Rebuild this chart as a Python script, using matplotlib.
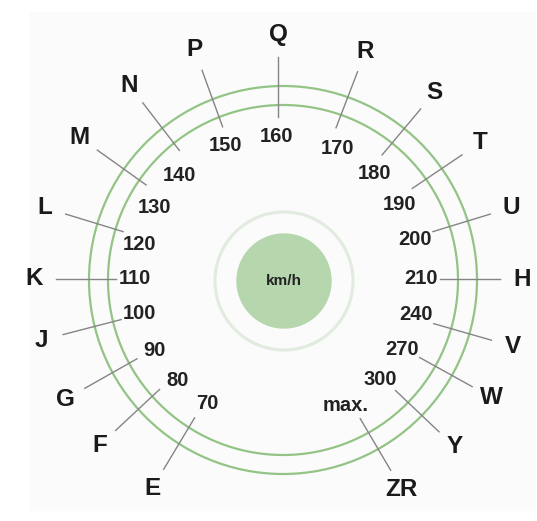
import numpy as np
import matplotlib.pyplot as plt
from matplotlib.patches import Circle

# speed ratings around the dial, read clockwise from the bottom left
letters = ['E', 'F', 'G', 'J', 'K', 'L', 'M', 'N', 'P', 'Q',
           'R', 'S', 'T', 'U', 'H', 'V', 'W', 'Y', 'ZR']
speeds = ['70', '80', '90', '100', '110', '120', '130', '140', '150', '160',
          '170', '180', '190', '200', '210', '240', '270', '300', 'max.']

# angle (degrees, counter-clockwise from 3 o'clock) of each letter and each speed label
letter_ang = [239, 223, 209.5, 194.5, 180, 163, 144.5, 127.5, 110, 90,
              69, 50, 34, 17, 0, -16, -29, -43.5, -59.5]
speed_ang = [240.5, 225.5, 210, 194, 180, 166, 150, 133.5, 111.5, 90.5,
             65.5, 47.5, 31.5, 16, 0, -14.5, -29.5, -44.5, -62]

W, H = 537, 521
cx, cy = 278, 279          # centre of the labels
ccx, ccy = 283, 280        # centre of the green rings
r_speed, r_letter = 143, 244
r_line0, r_line1 = 162, 222


def pos(r, a):
    t = np.radians(a)
    return cx + r * np.cos(t), cy - r * np.sin(t)


fig = plt.figure(figsize=(W / 100, H / 100), dpi=100)
ax = fig.add_axes([0, 0, 1, 1])
ax.set_xlim(0, W)
ax.set_ylim(H, 0)
ax.axis('off')

# faint paper background
ax.add_patch(plt.Rectangle((30, 12), 505, 498, color='#fbfbfb', zorder=0))

# outer double ring
for r in (194, 175):
    ax.add_patch(Circle((ccx, ccy), r, fill=False, ec='#93c486', lw=1.6, zorder=2))

# centre disk
ax.add_patch(Circle((284, 281), 69, fill=False, ec='#e2ebdf', lw=2.2, zorder=2))
ax.add_patch(Circle((284, 281), 47, color='#b6d7ae', zorder=2))
ax.text(284, 281, 'km/h', ha='center', va='center', fontsize=11,
        fontweight='bold', family='Liberation Sans', color='#222222', zorder=3)

for let, sp, la, sa in zip(letters, speeds, letter_ang, speed_ang):
    x0, y0 = pos(r_line0, la)
    x1, y1 = pos(r_line1, la)
    ax.plot([x0, x1], [y0, y1], color='#858585', lw=1.0, zorder=3)
    lx, ly = pos(r_letter, la)
    ax.text(lx, ly, let, ha='center', va='center', fontsize=17.5,
            fontweight='bold', family='Liberation Sans', color='#1a1a1a', zorder=4)
    sx, sy = pos(r_speed, sa)
    ax.text(sx, sy, sp, ha='center', va='center', fontsize=14.5,
            fontweight='bold', family='Liberation Sans', color='#222222', zorder=4)

fig.savefig('out.png', dpi=100)
